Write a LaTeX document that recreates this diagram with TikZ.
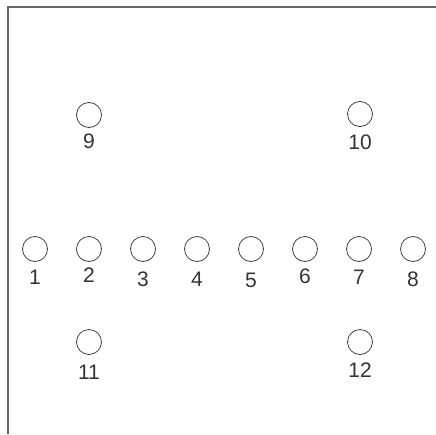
\documentclass[tikz,border=0pt]{standalone}
\usepackage{fontspec}
\setmainfont{Liberation Sans}
\begin{document}
\begin{tikzpicture}[x=1pt,y=-1pt,
  hole/.style={circle, draw=black!75, line width=0.8pt, minimum size=25pt, inner sep=0pt},
  num/.style={font=\fontsize{21}{21}\selectfont, text=black!80, inner sep=0pt}]
	\useasboundingbox (0,0) rectangle (436,434);
	\draw [black!60, line width=1.5pt] (436,7) -- (8,7) -- (8,434);
	% middle row
	\foreach \i/\x/\ly in {1/35/277,2/89/275,3/143/279,4/197/279,5/251/280,6/305/276,7/359/277,8/413/279}
	{
	\node [hole] (h\i) at (\x,249) {};
	\node [num] (n\i) at (\x,\ly) {\i};
	}
	% upper and lower pairs
	\foreach \i/\x/\y/\ly in {9/89/115/141,10/360/114/142,11/89/342/372,12/360/342/370}
	{
	\node [hole] (h\i) at (\x,\y) {};
	\node [num] (n\i) at (\x,\ly) {\i};
	}
\end{tikzpicture}
\end{document}
